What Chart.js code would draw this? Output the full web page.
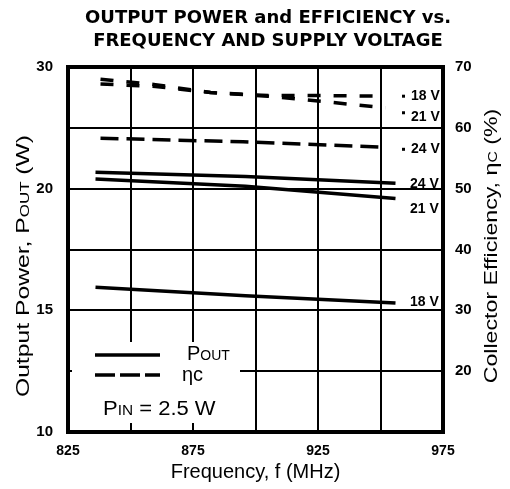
<!DOCTYPE html>
<html>
<head>
<meta charset="utf-8">
<script src="https://cdn.jsdelivr.net/npm/chart.js@4.4.1/dist/chart.umd.min.js"></script>
<style>
  html, body { margin: 0; padding: 0; background: #fff; }
  #wrap { width: 510px; height: 489px; }
</style>
</head>
<body>
<div id="wrap"><canvas id="chart"></canvas></div>
<script>
// output power (W), solid lines
const freqPout = [836, 896, 956];
const pout18 = [15.95, 15.6, 15.3];
const pout21 = [20.8, 20.2, 19.6];
const pout24 = [21.35, 21.0, 20.45];

// collector efficiency (%), dashed lines
const freqEff = [838, 860, 882, 905, 930, 952];
const eff18 = [68.0, 67.1, 65.8, 65.3, 65.3, 65.2];
const eff21 = [67.2, 66.8, 65.8, 65.2, 64.2, 63.3];
const freqEff24 = [838, 895, 952];
const eff24 = [58.3, 57.7, 56.8];

const freqTicks = [825, 875, 925, 975];
const powerTicks = [10, 15, 20, 30];
const effTicks = [10, 20, 30, 40, 50, 60, 70];

// the power axis is not uniform: its labels sit on these efficiency grid lines
const powerTickPos = [10, 30, 50, 70];
function powerToAxis(w) {
    for (let i = 1; i < powerTicks.length; i++) {
        if (w <= powerTicks[i] || i === powerTicks.length - 1) {
            const t = (w - powerTicks[i - 1]) / (powerTicks[i] - powerTicks[i - 1]);
            return powerTickPos[i - 1] + t * (powerTickPos[i] - powerTickPos[i - 1]);
        }
    }
}

const black = '#000';
const sans = '"Liberation Sans", Arial, sans-serif';
const pts = (xs, ys, f) => xs.map((x, i) => ({x: x, y: f ? f(ys[i]) : ys[i]}));

const solid = (data) => ({
    data: data, yAxisID: 'y', borderColor: black, borderWidth: 3.5,
    pointRadius: 0, fill: false, tension: 0
});
const dashed = (data, dash) => ({
    data: data, yAxisID: 'y1', borderColor: black, borderWidth: 3.5,
    borderDash: dash, pointRadius: 0, fill: false, tension: 0
});

const endLabels = [
    {ds: 0, text: '18 V', dy: -1},
    {ds: 1, text: '21 V', dy: 11},
    {ds: 2, text: '24 V', dy: 1},
    {ds: 3, text: '18 V', dy: 0, dot: 0},
    {ds: 4, text: '21 V', dy: 9, dot: 5},
    {ds: 5, text: '24 V', dy: 2, dot: 2}
];

// text run, centred on (x, y), rotated, stretched along its length
function drawParts(ctx, parts, x, y, rot, stretch) {
    ctx.save();
    ctx.translate(x, y);
    ctx.rotate(rot);
    ctx.scale(stretch, 1);
    ctx.fillStyle = black;
    ctx.textAlign = 'left';
    ctx.textBaseline = 'alphabetic';
    let w = 0;
    parts.forEach(p => { ctx.font = p.font; w += ctx.measureText(p.text).width; });
    let cx = -w / 2;
    parts.forEach(p => {
        ctx.font = p.font;
        ctx.fillText(p.text, cx, 7);
        cx += ctx.measureText(p.text).width;
    });
    ctx.restore();
}

// text run starting at (x, baseline y)
function drawRun(ctx, parts, x, y, stretch) {
    ctx.save();
    ctx.translate(x, y);
    ctx.scale(stretch || 1, 1);
    ctx.fillStyle = black;
    ctx.textAlign = 'left';
    ctx.textBaseline = 'alphabetic';
    let cx = 0;
    parts.forEach(p => {
        ctx.font = p.font;
        ctx.fillText(p.text, cx, 0);
        cx += ctx.measureText(p.text).width;
    });
    ctx.restore();
}

const decor = {
    id: 'decor',
    beforeDatasetsDraw(chart) {
        const ctx = chart.ctx;
        const a = chart.chartArea;
        ctx.save();
        // legend panel hides the grid behind it
        ctx.fillStyle = '#fff';
        ctx.fillRect(72, 342, 168, 81);
        // frame
        ctx.strokeStyle = black;
        ctx.lineWidth = 4;
        ctx.strokeRect(a.left, a.top, a.right - a.left, a.bottom - a.top);
        ctx.restore();
    },
    afterDatasetsDraw(chart) {
        const ctx = chart.ctx;
        const big = '20px ' + sans;
        const small = '14px ' + sans;
        const vbig = '19px ' + sans;
        const vsmall = '13px ' + sans;

        // title
        ctx.save();
        ctx.fillStyle = black;
        ctx.textAlign = 'center';
        ctx.textBaseline = 'middle';
        ctx.font = 'bold 18px "DejaVu Sans", sans-serif';
        ctx.fillText('OUTPUT POWER and EFFICIENCY vs.', 268, 18);
        ctx.fillText('FREQUENCY AND SUPPLY VOLTAGE', 268, 41);
        ctx.restore();

        // vertical axis titles
        drawParts(ctx, [
            {text: 'Output Power, P', font: vbig},
            {text: 'OUT', font: vsmall},
            {text: ' (W)', font: vbig}
        ], 22, 266, -Math.PI / 2, 1.3);
        drawParts(ctx, [
            {text: 'Collector Efficiency, η', font: vbig},
            {text: 'C', font: vsmall},
            {text: ' (%)', font: vbig}
        ], 490, 246, -Math.PI / 2, 1.22);

        // line end labels
        ctx.save();
        ctx.fillStyle = black;
        ctx.font = 'bold 14px ' + sans;
        ctx.textBaseline = 'middle';
        endLabels.forEach(l => {
            const pt = chart.getDatasetMeta(l.ds).data.at(-1);
            const y = pt.y + l.dy;
            if (l.dot !== undefined) {
                ctx.fillRect(402, pt.y + l.dot - 1.5, 3, 3);
                ctx.fillText(l.text, 411, y);
            } else {
                ctx.fillText(l.text, 410, y);
            }
        });
        ctx.restore();

        // legend
        ctx.save();
        ctx.strokeStyle = black;
        ctx.lineWidth = 3.5;
        ctx.beginPath();
        ctx.moveTo(95, 355);
        ctx.lineTo(160, 355);
        ctx.stroke();
        ctx.setLineDash([20, 5]);
        ctx.beginPath();
        ctx.moveTo(95, 375);
        ctx.lineTo(160, 375);
        ctx.stroke();
        ctx.restore();
        drawRun(ctx, [{text: 'P', font: big}, {text: 'OUT', font: small}], 187, 360, 1);
        drawRun(ctx, [{text: 'ηc', font: '20px ' + sans}], 182, 381, 1);
        drawRun(ctx, [
            {text: 'P', font: big},
            {text: 'IN', font: small},
            {text: ' = 2.5 W', font: big}
        ], 103, 415, 1.1);
    }
};

new Chart(document.getElementById('chart'), {
    type: 'line',
    data: {
        datasets: [
            solid(pts(freqPout, pout18, powerToAxis)),
            solid(pts(freqPout, pout21, powerToAxis)),
            solid(pts(freqPout, pout24, powerToAxis)),
            dashed(pts(freqEff, eff18), [13, 13]),
            dashed(pts(freqEff, eff21), [13, 13]),
            dashed(pts(freqEff24, eff24), [18, 8])
        ]
    },
    options: {
        responsive: true,
        maintainAspectRatio: false,
        animation: false,
        layout: { padding: { top: 67, left: 0, right: 0, bottom: 0 } },
        plugins: {
            legend: { display: false },
            title: { display: false },
            tooltip: { enabled: false }
        },
        scales: {
            x: {
                type: 'linear',
                min: 825,
                max: 975,
                afterBuildTicks: s => {
                    const t = [];
                    for (let v = 825; v <= 975; v += 25) t.push({value: v});
                    s.ticks = t;
                },
                afterFit: s => { s.height = 57; },
                grid: { color: black, lineWidth: 2, drawTicks: false },
                border: { display: false },
                ticks: {
                    padding: 11,
                    color: black,
                    autoSkip: false,
                    maxRotation: 0,
                    font: { family: sans, size: 14, weight: 'bold' },
                    callback: v => freqTicks.includes(v) ? String(v) : ''
                },
                title: {
                    display: true,
                    text: 'Frequency, f (MHz)',
                    color: black,
                    font: { family: sans, size: 20 },
                    padding: { top: 0, bottom: 5 }
                }
            },
            y: {
                position: 'left',
                min: 10,
                max: 70,
                afterBuildTicks: s => { s.ticks = powerTickPos.map(v => ({value: v})); },
                afterFit: s => { s.width = 68; },
                grid: { display: false },
                border: { display: false },
                ticks: {
                    padding: 7,
                    color: black,
                    font: { family: sans, size: 15, weight: 'bold' },
                    callback: v => String(powerTicks[powerTickPos.indexOf(v)])
                }
            },
            y1: {
                position: 'right',
                min: 10,
                max: 70,
                afterBuildTicks: s => { s.ticks = effTicks.map(v => ({value: v})); },
                afterFit: s => { s.width = 67; },
                grid: { color: black, lineWidth: 2, drawTicks: false },
                border: { display: false },
                ticks: {
                    padding: 12,
                    color: black,
                    font: { family: sans, size: 15, weight: 'bold' },
                    callback: v => effTicks.slice(1).includes(v) ? String(v) : ''
                }
            }
        }
    },
    plugins: [decor]
});
</script>
</body>
</html>
